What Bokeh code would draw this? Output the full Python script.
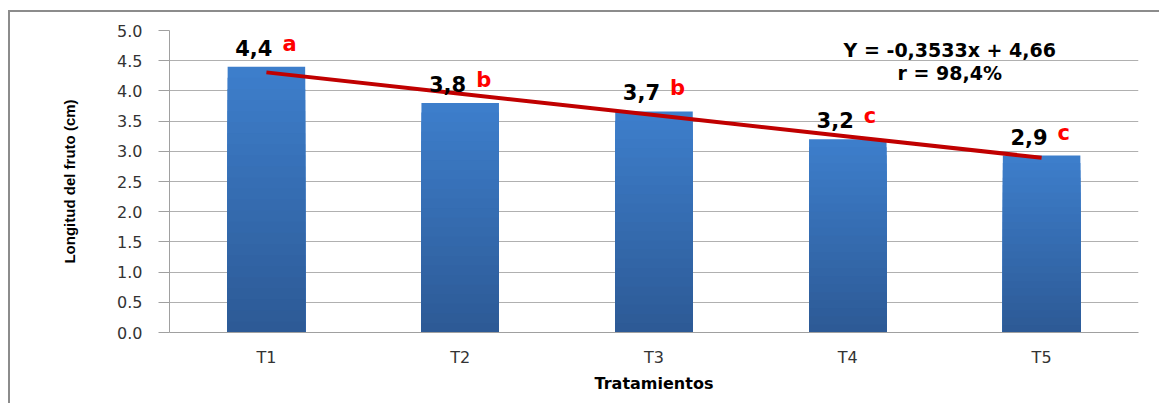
from bokeh.plotting import figure
from bokeh.models import FactorRange, Range1d, ColumnDataSource, NumeralTickFormatter, SingleIntervalTicker
from bokeh.core.properties import value
from bokeh.embed import file_html
from bokeh.resources import INLINE

# ---- data ----
treatments = ["T1", "T2", "T3", "T4", "T5"]
lengths = [4.40, 3.80, 3.66, 3.20, 2.93]
value_labels = ["4,4", "3,8", "3,7", "3,2", "2,9"]
group_letters = ["a", "b", "b", "c", "c"]
slope = -0.3533
intercept = 4.66
equation_text = "Y = -0,3533x + 4,66"
r_text = "r = 98,4%"
y_title = "Longitud del fruto (cm)"
x_title = "Tratamientos"

p = figure(width=1151, height=393, x_range=FactorRange(*treatments, range_padding=0),
           y_range=Range1d(0, 5), output_backend="svg", toolbar_location=None,
           min_border_left=159, min_border_right=23, min_border_top=18, min_border_bottom=73)
p.margin = (10, 0, 0, 8)
p.styles = {"border-left": "2px solid #8c8c8c", "border-top": "2px solid #8c8c8c"}
p.outline_line_color = None
p.background_fill_color = "white"
p.border_fill_color = "white"

# gradient bars (layered)
top_col = (0x3d, 0x7e, 0xcb)
bot_col = (0x2d, 0x5a, 0x96)
N = 24
for k in range(N):
    t = k / (N - 1)
    c = tuple(int(round(top_col[i] + (bot_col[i] - top_col[i]) * t)) for i in range(3))
    col = "#%02x%02x%02x" % c
    frac = 1 - k / N
    p.vbar(x=treatments, top=[v * frac for v in lengths], width=0.4, fill_color=col, line_color=None)

# regression line
xs = list(range(1, len(treatments) + 1))
p.line(x=treatments, y=[slope * x + intercept for x in xs], line_color="#c00000", line_width=4)

# value labels + letters
src = ColumnDataSource(dict(x=treatments, y=lengths, v=value_labels, l=group_letters))
p.text(x="x", y="y", text="v", source=src, text_align="right", text_baseline="bottom",
       x_offset=6, y_offset=-11, text_font=value("DejaVu Sans"), text_font_style="bold",
       text_font_size="21px", text_color="black")
p.text(x="x", y="y", text="l", source=src, text_align="left", text_baseline="bottom",
       x_offset=16, y_offset=-11, text_font=value("DejaVu Sans"), text_font_style="bold",
       text_font_size="21px", text_color="#ff0000")

# equation
p.text(x=["T4", "T4"], y=[4.67, 4.30], text=[equation_text, r_text], text_align="center",
       text_baseline="middle", x_offset=102, text_font=value("DejaVu Sans"), text_font_style="bold",
       text_font_size="19px", text_color="black")

# axes
p.yaxis.ticker = SingleIntervalTicker(interval=0.5)
p.yaxis.formatter = NumeralTickFormatter(format="0.0")
p.yaxis.major_tick_out = 11
p.yaxis.major_tick_in = 0
p.yaxis.minor_tick_line_color = None
p.yaxis.axis_line_color = "#a0a0a0"
p.yaxis.major_tick_line_color = "#a0a0a0"
p.yaxis.major_label_text_font = "DejaVu Sans"
p.yaxis.major_label_text_font_size = "16px"
p.yaxis.major_label_text_color = "#333333"
p.yaxis.major_label_standoff = 16
p.yaxis.axis_label = y_title
p.yaxis.axis_label_text_font = "Liberation Sans"
p.yaxis.axis_label_text_font_style = "bold"
p.yaxis.axis_label_text_font_size = "15px"
p.yaxis.axis_label_text_color = "black"
p.yaxis.axis_label_standoff = 36

p.xaxis.major_tick_out = 0
p.xaxis.major_tick_in = 0
p.xaxis.minor_tick_line_color = None
p.xaxis.axis_line_color = "#a0a0a0"
p.xaxis.major_label_text_font = "DejaVu Sans"
p.xaxis.major_label_text_font_size = "16px"
p.xaxis.major_label_text_color = "#333333"
p.xaxis.major_label_standoff = 15
p.xaxis.axis_label = x_title
p.xaxis.axis_label_text_font = "DejaVu Sans"
p.xaxis.axis_label_text_font_style = "bold"
p.xaxis.axis_label_text_font_size = "16px"
p.xaxis.axis_label_text_color = "black"
p.xaxis.axis_label_standoff = 4

p.xgrid.grid_line_color = None
p.ygrid.grid_line_color = "#b0b0b0"
p.ygrid.grid_line_width = 1

open("out.html", "w").write(file_html(p, INLINE))
